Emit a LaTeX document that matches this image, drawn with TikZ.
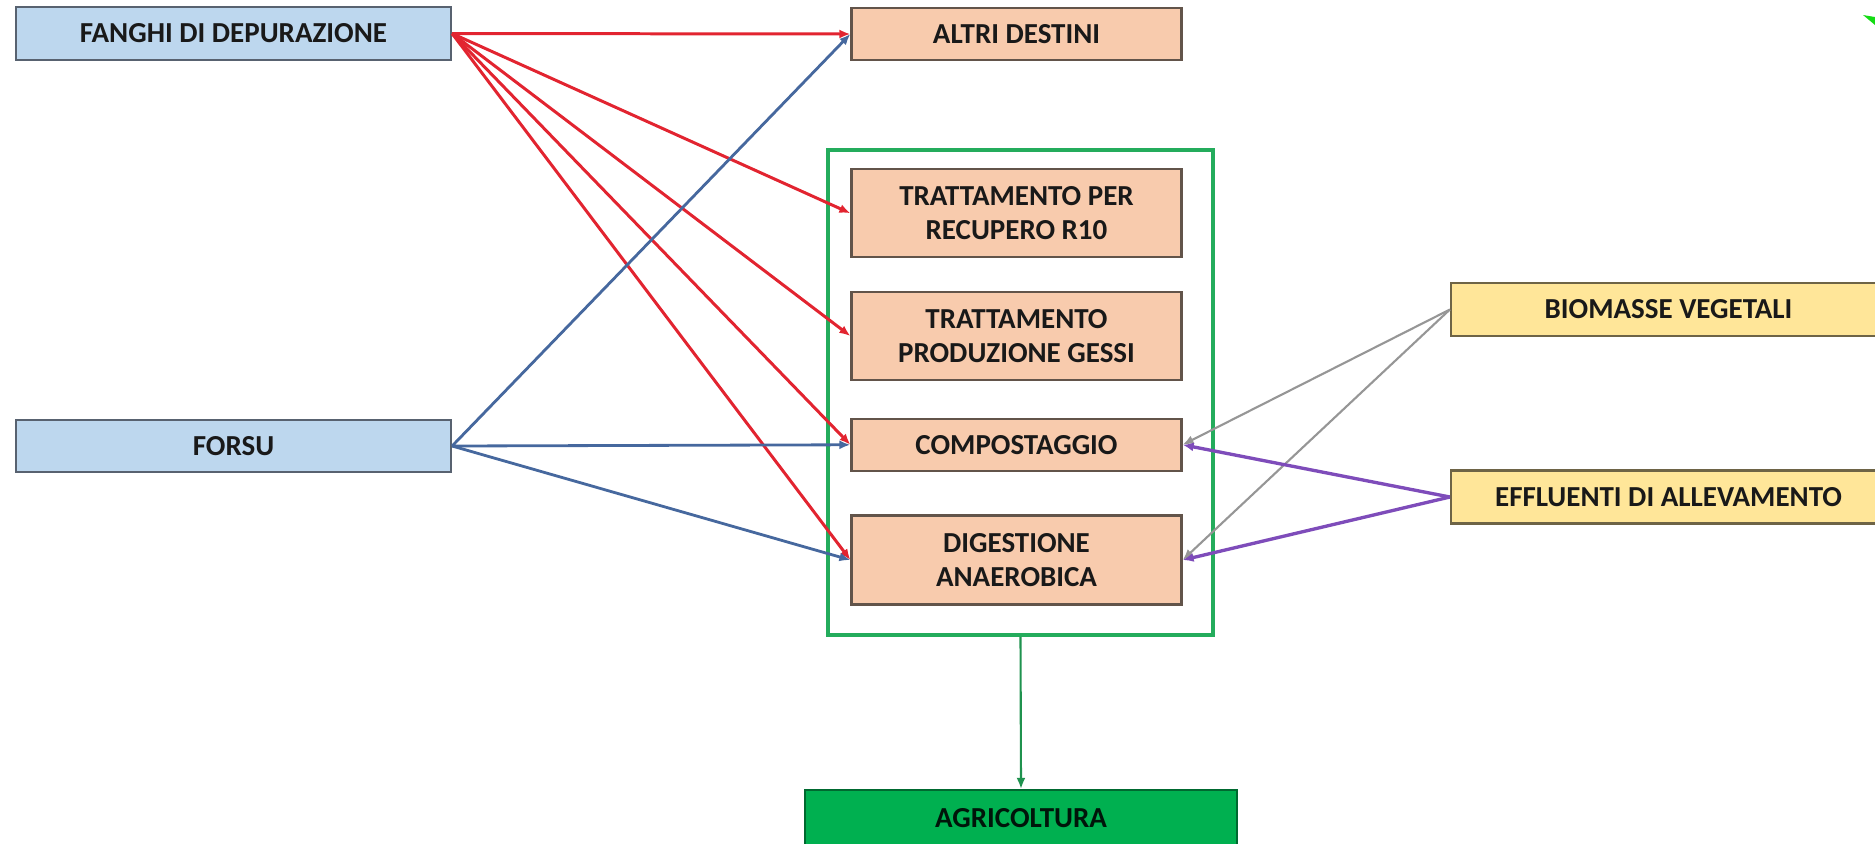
\documentclass[tikz,border=0pt]{standalone}
\usepackage{fontspec}
\setmainfont{Carlito}
\usetikzlibrary{arrows.meta, positioning}
\definecolor{srcfill}{RGB}{189,215,238}
\definecolor{srcline}{RGB}{88,98,112}
\definecolor{impfill}{RGB}{248,203,173}
\definecolor{impline}{RGB}{98,84,74}
\definecolor{addfill}{RGB}{255,230,153}
\definecolor{addline}{RGB}{110,100,70}
\definecolor{agrfill}{RGB}{0,176,80}
\definecolor{agrline}{RGB}{0,105,48}
\definecolor{framegreen}{RGB}{36,172,92}
\definecolor{fangored}{RGB}{226,36,48}
\definecolor{forsublue}{RGB}{70,104,158}
\definecolor{biogrey}{RGB}{150,150,150}
\definecolor{efflpurple}{RGB}{126,76,186}
\definecolor{cornergreen}{RGB}{20,220,20}
\tikzset{
  box/.style={
    rectangle, draw=#1, line width=1.3pt,
    align=center, inner sep=2pt,
    font=\fontsize{16.5}{19}\selectfont\bfseries,
    text=black!90
  },
  srcbox/.style={box=srcline, fill=srcfill,
    minimum width=8.7cm, minimum height=1.05cm},
  impbox/.style={box=impline, fill=impfill,
    minimum width=6.6cm, minimum height=#1},
  impbox/.default=1.04cm,
  addbox/.style={box=addline, fill=addfill,
    minimum width=8.7cm, minimum height=1.06cm},
  agrbox/.style={box=agrline, fill=agrfill, text=black!80!agrline,
    minimum width=8.64cm, minimum height=1.12cm},
  frame/.style={rectangle, draw=framegreen, line width=2.2pt,
    minimum width=7.7cm, minimum height=9.7cm},
  arrow/.style={
    -{Latex[length=2.2mm, width=1.8mm]},
    line width=#1
  },
  arrow/.default=1.4pt,
  redarrow/.style={arrow=1.7pt, draw=fangored, fill=fangored},
  bluearrow/.style={arrow=1.6pt, draw=forsublue, fill=forsublue},
  greyarrow/.style={arrow=1.2pt, draw=biogrey, fill=biogrey},
  purplearrow/.style={arrow=1.9pt, draw=efflpurple, fill=efflpurple},
  greenarrow/.style={arrow=1.2pt, draw=framegreen!85!black, fill=framegreen!85!black}
}
\begin{document}
\begin{tikzpicture}[x=0.02cm, y=-0.02cm]
\useasboundingbox (0,0) rectangle (1875,843);

%------------------------------------------------------
% NODES
%------------------------------------------------------

% sources (left)
\node[srcbox] (fanghi) at (233.5,33.5) {FANGHI DI DEPURAZIONE};
\node[srcbox] (forsu) at (233.5,446) {FORSU};

% frame round the treatments
\node[frame] (impianti) at (1020.5,392.5) {};

% destinations (middle column)
\node[impbox] (altri) at (1016.5,34) {ALTRI DESTINI};
\node[impbox=1.76cm, below=2.14cm of altri] (recupero) {%
  TRATTAMENTO PER\\ RECUPERO R10};
\node[impbox=1.76cm, below=0.65cm of recupero] (gessi) {%
  TRATTAMENTO\\ PRODUZIONE GESSI};
\node[impbox, below=0.73cm of gessi] (compost) {COMPOSTAGGIO};
\node[impbox=1.78cm, below=0.85cm of compost] (digest) {%
  DIGESTIONE\\ ANAEROBICA};

% other inputs (right)
\node[addbox] (biomasse) at (1668.5,309.5) {BIOMASSE VEGETALI};
\node[addbox] (effluenti) at (1668.5,497) {EFFLUENTI DI ALLEVAMENTO};

% final use
\node[agrbox] (agricoltura) at (1021,818) {AGRICOLTURA};

%------------------------------------------------------
% EDGES
%------------------------------------------------------

\foreach \dest in {altri, recupero, gessi, compost, digest}
  \draw[redarrow] (fanghi.east) -- (\dest.west);
\foreach \dest in {altri, compost, digest}
  \draw[bluearrow] (forsu.east) -- (\dest.west);
\foreach \dest in {compost, digest}
  \draw[greyarrow] (biomasse.west) -- (\dest.east);
\foreach \dest in {compost, digest}
  \draw[purplearrow] (effluenti.west) -- (\dest.east);
\draw[greenarrow] (impianti.south) -- (agricoltura.north);

% corner mark
\fill[cornergreen] (1863,15) -- (1875,17) -- (1875,25) -- cycle;

\end{tikzpicture}
\end{document}
